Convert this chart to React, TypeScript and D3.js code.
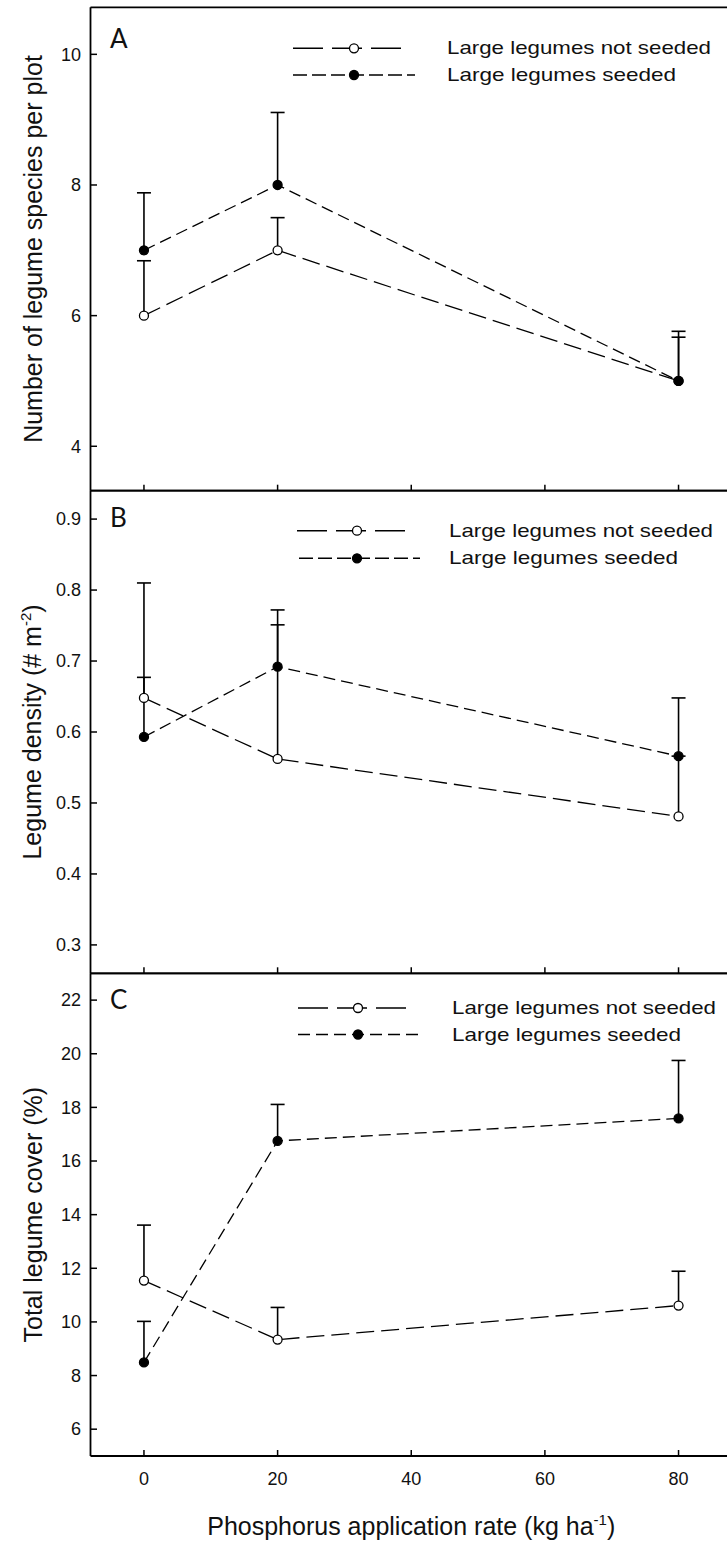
import React from 'react';
import * as d3 from 'd3';

// ---------- data ----------
const phosphorus = [0, 20, 80];
const xTicks = [0, 20, 40, 60, 80];
const legendLabels = ['Large legumes not seeded', 'Large legumes seeded'];

const speciesNotSeeded = [6.0, 7.0, 5.0];
const speciesNotSeededSE = [0.84, 0.5, 0.67];
const speciesSeeded = [7.0, 8.0, 5.0];
const speciesSeededSE = [0.88, 1.11, 0.76];
const speciesTicks = [4, 6, 8, 10];

const densityNotSeeded = [0.648, 0.562, 0.481];
const densityNotSeededSE = [0.162, 0.189, 0.085];
const densitySeeded = [0.593, 0.692, 0.566];
const densitySeededSE = [0.084, 0.08, 0.082];
const densityTicks = [0.3, 0.4, 0.5, 0.6, 0.7, 0.8, 0.9];

const coverNotSeeded = [11.54, 9.34, 10.61];
const coverNotSeededSE = [2.07, 1.2, 1.28];
const coverSeeded = [8.49, 16.75, 17.59];
const coverSeededSE = [1.53, 1.36, 2.16];
const coverTicks = [6, 8, 10, 12, 14, 16, 18, 20, 22];

// ---------- layout ----------
const W = 727;
const H = 1542;
const LEFT = 90.5;
const RIGHT = 732;
const FONT = '"Liberation Sans", Arial, sans-serif';

const x = d3.scaleLinear().domain([-8, 88]).range([LEFT, RIGHT]);

type Panel = {
  letter: string;
  top: number;
  bottom: number;
  domain: [number, number];
  ticks: number[];
  fmt: (v: number) => string;
  notSeeded: number[];
  notSeededSE: number[];
  seeded: number[];
  seededSE: number[];
  title: React.ReactNode;
  titleX: number;
  letterY: number;
  legendY: [number, number];
  legendLine: [number, number, number, number];
  legendMarker: number;
  legendTextX: number;
  seededLegendDash: string;
};

const panels: Panel[] = [
  {
    letter: 'A', top: 7.3, bottom: 490.7, domain: [3.32, 10.72], ticks: speciesTicks,
    fmt: d3.format('d'),
    notSeeded: speciesNotSeeded, notSeededSE: speciesNotSeededSE,
    seeded: speciesSeeded, seededSE: speciesSeededSE,
    title: 'Number of legume species per plot', titleX: 42, letterY: 48,
    legendY: [48.3, 75], legendLine: [293, 405, 293, 415], legendMarker: 354, legendTextX: 447,
    seededLegendDash: '14,5',
  },
  {
    letter: 'B', top: 490.7, bottom: 973.3, domain: [0.26, 0.94], ticks: densityTicks,
    fmt: d3.format('.1f'),
    notSeeded: densityNotSeeded, notSeededSE: densityNotSeededSE,
    seeded: densitySeeded, seededSE: densitySeededSE,
    title: (
      <>
        Legume density (# m<tspan dy={-10} fontSize={15}>-2</tspan><tspan dy={10}>)</tspan>
      </>
    ),
    titleX: 41, letterY: 527,
    legendY: [530.7, 558.3], legendLine: [297, 408, 299, 420], legendMarker: 357, legendTextX: 449,
    seededLegendDash: '14,5',
  },
  {
    letter: 'C', top: 973.3, bottom: 1456, domain: [5, 23], ticks: coverTicks,
    fmt: d3.format('d'),
    notSeeded: coverNotSeeded, notSeededSE: coverNotSeededSE,
    seeded: coverSeeded, seededSE: coverSeededSE,
    title: 'Total legume cover (%)', titleX: 42, letterY: 1009,
    legendY: [1008, 1034.5], legendLine: [298, 408, 298, 418], legendMarker: 358, legendTextX: 452,
    seededLegendDash: '12,6',
  },
];

const NOT_SEEDED_DASH = '18,7';
const SEEDED_DASH = '12,6';

function PanelView({ p, isLast }: { p: Panel; isLast: boolean }) {
  const y = d3.scaleLinear().domain(p.domain).range([p.bottom, p.top]);
  const line = d3
    .line<number>()
    .x((_, i) => x(phosphorus[i]))
    .y((d) => y(d));
  const series = [
    { vals: p.notSeeded, se: p.notSeededSE, fill: '#fff', dash: NOT_SEEDED_DASH },
    { vals: p.seeded, se: p.seededSE, fill: '#000', dash: SEEDED_DASH },
  ];
  const mid = (p.top + p.bottom) / 2;
  return (
    <g>
      {/* frame */}
      <line x1={LEFT} x2={RIGHT} y1={p.top} y2={p.top} stroke="#000" strokeWidth={1.8} />
      <line x1={LEFT} x2={RIGHT} y1={p.bottom} y2={p.bottom} stroke="#000" strokeWidth={1.8} />
      <line x1={LEFT} x2={LEFT} y1={p.top} y2={p.bottom} stroke="#000" strokeWidth={1.8} />
      {/* y ticks */}
      {p.ticks.map((t) => (
        <g key={t}>
          <line x1={LEFT} x2={LEFT + 6.5} y1={y(t)} y2={y(t)} stroke="#000" strokeWidth={1.5} />
          <text x={81} y={y(t)} dy="0.35em" textAnchor="end" fontSize={18} fontFamily={FONT} fill="#111">
            {p.fmt(t)}
          </text>
        </g>
      ))}
      {/* x ticks */}
      {xTicks.map((t) => (
        <g key={t}>
          <line x1={x(t)} x2={x(t)} y1={p.bottom} y2={p.bottom - 6} stroke="#000" strokeWidth={1.5} />
          {isLast && (
            <text x={x(t)} y={p.bottom + 29} textAnchor="middle" fontSize={18} fontFamily={FONT} fill="#111">
              {t}
            </text>
          )}
        </g>
      ))}
      {/* y title */}
      <text
        transform={`translate(${p.titleX},${mid}) rotate(-90)`}
        textAnchor="middle"
        fontSize={25}
        fontFamily={FONT}
        fill="#111"
      >
        {p.title}
      </text>
      {/* panel letter */}
      <text x={110} y={p.letterY} fontSize={26} fontFamily="Lato, sans-serif" fill="#111">
        {p.letter}
      </text>
      {/* lines */}
      {series.map((s, i) => (
        <path key={'l' + i} d={line(s.vals) || ''} fill="none" stroke="#000" strokeWidth={1.3} strokeDasharray={s.dash} />
      ))}
      {/* error bars */}
      {series.map((s, i) =>
        s.vals.map((v, j) => {
          const cx = x(phosphorus[j]);
          const yt = y(v + s.se[j]);
          return (
            <g key={'e' + i + '-' + j}>
              <line x1={cx} x2={cx} y1={y(v)} y2={yt} stroke="#000" strokeWidth={1.6} />
              <line x1={cx - 7} x2={cx + 7} y1={yt} y2={yt} stroke="#000" strokeWidth={1.6} />
            </g>
          );
        })
      )}
      {/* markers */}
      {series.map((s, i) =>
        s.vals.map((v, j) => (
          <circle key={'m' + i + '-' + j} cx={x(phosphorus[j])} cy={y(v)} r={4.5} fill={s.fill} stroke="#000" strokeWidth={1.3} />
        ))
      )}
      {/* legend */}
      {[0, 1].map((k) => {
        const ly = p.legendY[k];
        const x1 = p.legendLine[k * 2];
        const x2 = p.legendLine[k * 2 + 1];
        return (
          <g key={'lg' + k}>
            <line
              x1={x1}
              x2={x2}
              y1={ly}
              y2={ly}
              stroke="#000"
              strokeWidth={1.5}
              strokeDasharray={k === 0 ? '30,9' : p.seededLegendDash}
            />
            <circle cx={p.legendMarker} cy={ly} r={4.5} fill={k === 0 ? '#fff' : '#000'} stroke="#000" strokeWidth={1.3} />
            <text
              x={p.legendTextX}
              y={ly + 6}
              fontSize={19}
              fontFamily={FONT}
              fill="#111"
              textLength={k === 0 ? 264 : 229}
              lengthAdjust="spacingAndGlyphs"
            >
              {legendLabels[k]}
            </text>
          </g>
        );
      })}
    </g>
  );
}

export default function App() {
  return (
    <svg
      width={W}
      height={H}
      viewBox={`0 0 ${W} ${H}`}
      style={{ position: 'absolute', left: 0, top: 0, background: '#fff', display: 'block' }}
    >
      <rect x={0} y={0} width={W} height={H} fill="#fff" />
      {panels.map((p, i) => (
        <PanelView key={p.letter} p={p} isLast={i === panels.length - 1} />
      ))}
      <text x={(LEFT + RIGHT) / 2} y={1535} textAnchor="middle" fontSize={25} fontFamily={FONT} fill="#111">
        Phosphorus application rate (kg ha<tspan dy={-10} fontSize={15}>-1</tspan>
        <tspan dy={10}>)</tspan>
      </text>
    </svg>
  );
}
